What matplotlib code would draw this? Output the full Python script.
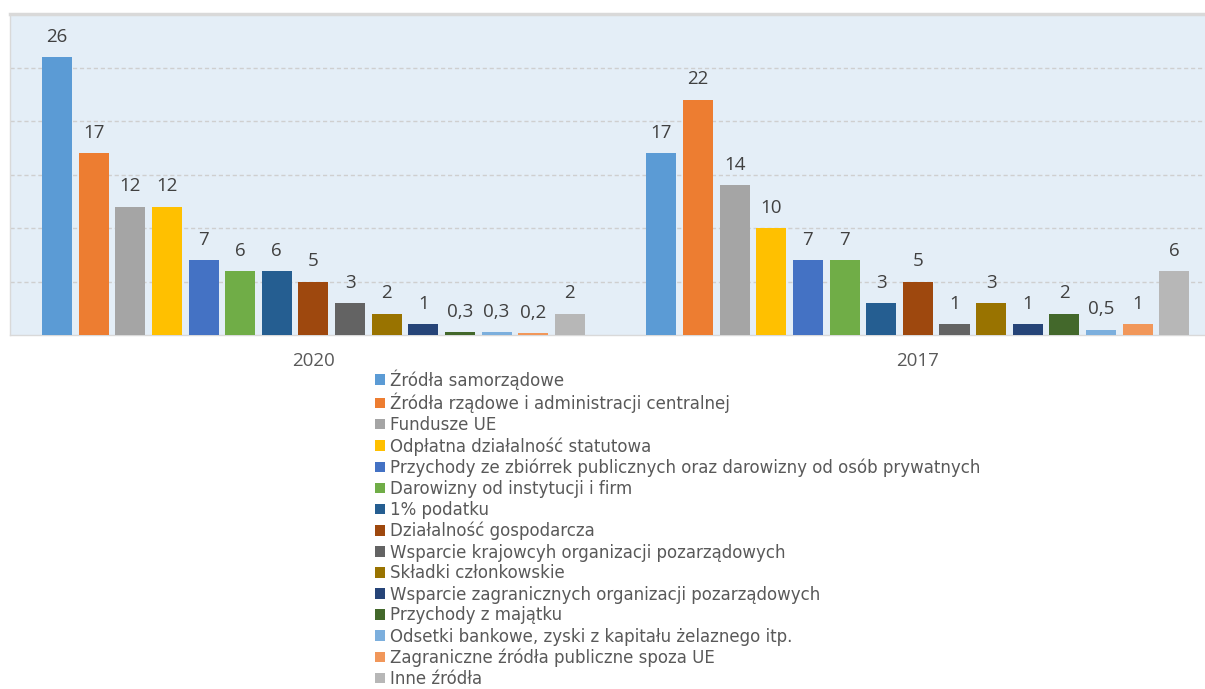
import matplotlib.pyplot as plt
import numpy as np
from matplotlib.patches import Patch

plt.rcParams['font.family'] = ['Open Sans', 'DejaVu Sans']

years = ["2020", "2017"]

sources = [
    "Źródła samorządowe",
    "Źródła rządowe i administracji centralnej",
    "Fundusze UE",
    "Odpłatna działalność statutowa",
    "Przychody ze zbiórrek publicznych oraz darowizny od osób prywatnych",
    "Darowizny od instytucji i firm",
    "1% podatku",
    "Działalność gospodarcza",
    "Wsparcie krajowcyh organizacji pozarządowych",
    "Składki członkowskie",
    "Wsparcie zagranicznych organizacji pozarządowych",
    "Przychody z majątku",
    "Odsetki bankowe, zyski z kapitału żelaznego itp.",
    "Zagraniczne źródła publiczne spoza UE",
    "Inne źródła",
]

values_2020 = [26, 17, 12, 12, 7, 6, 6, 5, 3, 2, 1, 0.3, 0.3, 0.2, 2]
values_2017 = [17, 22, 14, 10, 7, 7, 3, 5, 1, 3, 1, 2, 0.5, 1, 6]

colors = [
    "#5B9BD5", "#ED7D31", "#A5A5A5", "#FFC000", "#4472C4",
    "#70AD47", "#255E91", "#9E480E", "#636363", "#997300",
    "#264478", "#43682B", "#7CAFDD", "#F1975A", "#B7B7B7",
]


def fmt(v):
    return f"{v:g}".replace(".", ",")


fig = plt.figure(figsize=(12.05, 6.89), dpi=100)
ax = fig.add_axes([10 / 1205, 1 - 335 / 689, 1195 / 1205, 321 / 689])
ax.set_facecolor("#E4EEF7")

data = np.array([values_2020, values_2017])  # shape (years, sources)
n = len(sources)
slot = 0.0606
width = 0.0497
x = np.arange(len(years))

for i in range(n):
    pos = x + (i - (n - 1) / 2) * slot
    bars = ax.bar(pos, data[:, i], width=width, color=colors[i],
                  label=sources[i], zorder=3)
    for b, v in zip(bars, data[:, i]):
        ax.annotate(fmt(v), (b.get_x() + b.get_width() / 2, b.get_height()),
                    xytext=(0, 11), textcoords="offset points",
                    ha="center", va="baseline", fontsize=13.5,
                    color="#404040", zorder=4)

ax.set_ylim(0, 30)
ax.set_xlim(-0.502, 1.475)
ax.set_yticks(np.arange(5, 30, 5))
ax.set_yticklabels([])
ax.tick_params(axis="y", length=0)
ax.yaxis.grid(True, color="#CFCFCF", linestyle=(0, (3, 2)), linewidth=1, zorder=0)
ax.set_xticks(x)
ax.set_xticklabels(years, fontsize=13.5, color="#595959")
ax.tick_params(axis="x", length=0, pad=12)

for side in ("left", "bottom"):
    ax.spines[side].set_color("#D9D9D9")
    ax.spines[side].set_linewidth(1)
ax.spines["top"].set_color("#D9D9D9")
ax.spines["top"].set_linewidth(2.5)
ax.spines["right"].set_visible(False)

handles = [Patch(facecolor=c) for c in colors]
leg = fig.legend(handles, sources, loc="upper left",
                 bbox_to_anchor=(375 / 1205, 1 - 369 / 689),
                 frameon=False, prop={"family": "DejaVu Sans", "size": 12},
                 handlelength=0.6, handleheight=0.6, handletextpad=0.3,
                 labelspacing=0.18, borderpad=0, borderaxespad=0)
for t in leg.get_texts():
    t.set_color("#595959")

fig.savefig("out.png", dpi=100)
